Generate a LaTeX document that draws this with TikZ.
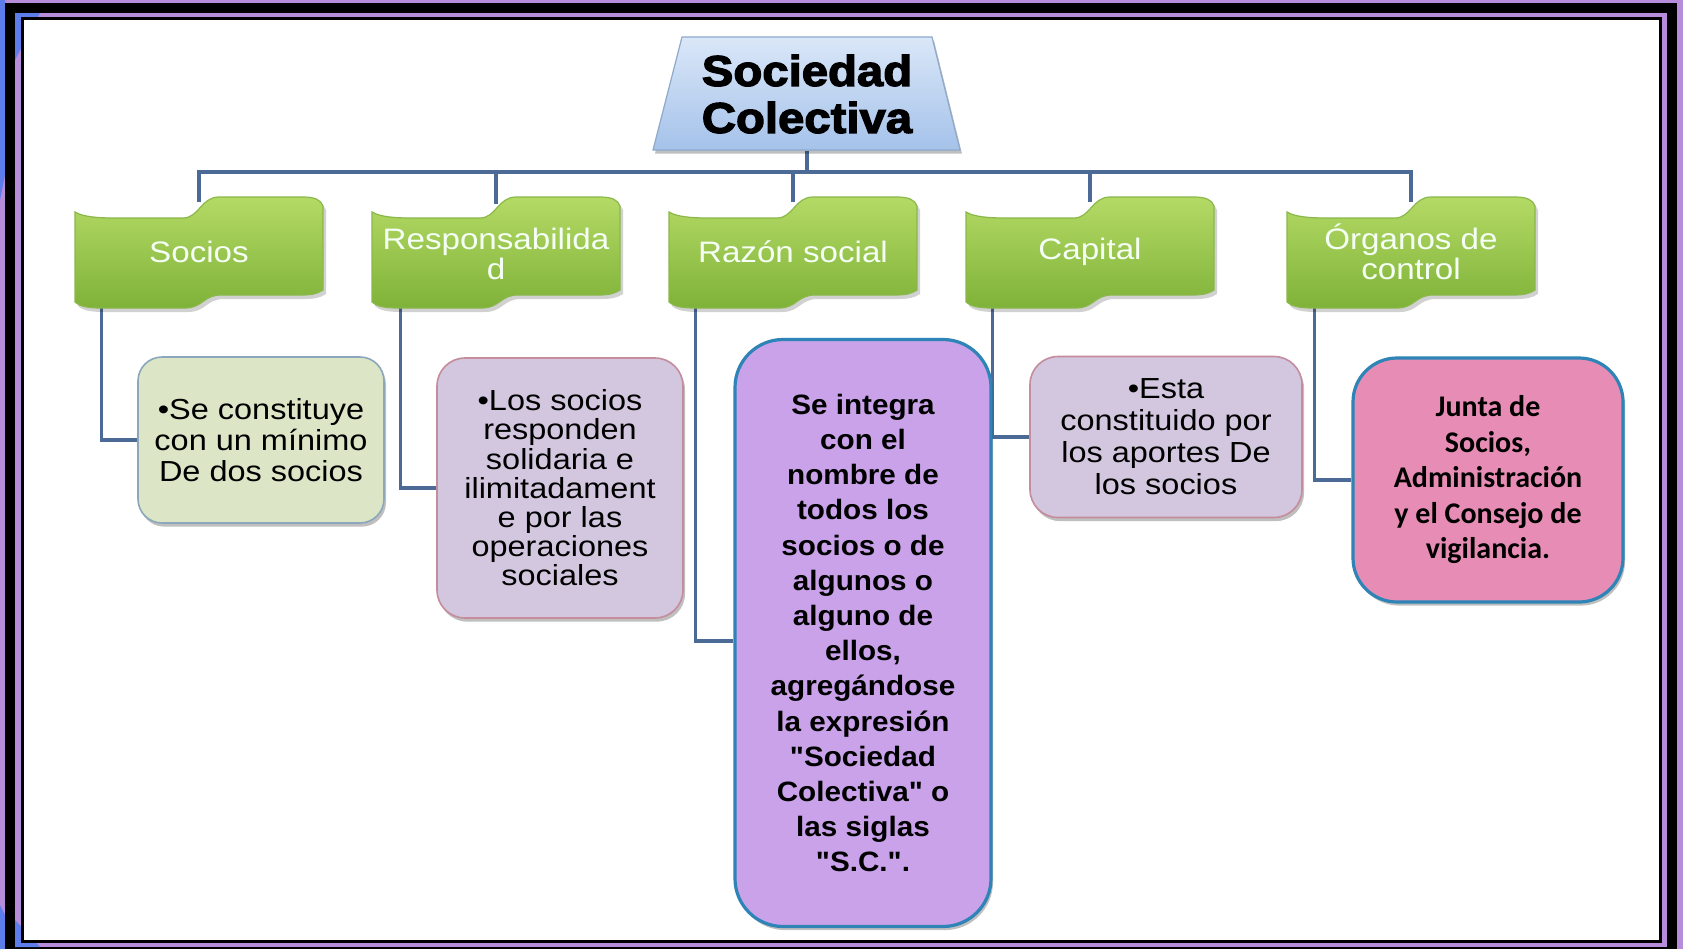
\documentclass[tikz,border=0pt]{standalone}
\usepackage{fontspec}
\setmainfont{Liberation Sans}
\newfontfamily\titlefont[FakeStretch=1.1,BoldFeatures={FakeBold=3}]{Liberation Sans}
\newfontfamily\bannerfont[FakeStretch=1.12]{Liberation Sans}
\newfontfamily\boxfont[FakeStretch=1.12]{Liberation Sans}
\newfontfamily\purplefont[FakeStretch=1.06]{Liberation Sans}
\newfontfamily\pinkfont{Carlito}
\usetikzlibrary{shadows,calc}
\pgfdeclarelayer{bg}
\pgfsetlayers{bg,main}
\definecolor{framelilac}{HTML}{B68CDB}
\definecolor{frameblue}{HTML}{5D7DEB}
\definecolor{conncol}{HTML}{4B6B96}
\definecolor{titletop}{HTML}{DAE7F8}
\definecolor{titlebot}{HTML}{A5C2EA}
\definecolor{titleedge}{HTML}{8EA9CC}
\definecolor{bantop}{HTML}{B4DA66}
\definecolor{banbot}{HTML}{7FB238}
\definecolor{banedge}{HTML}{8AB84A}
\definecolor{socfill}{HTML}{DCE6C6}
\definecolor{socedge}{HTML}{8CA6BC}
\definecolor{lilfill}{HTML}{D3C7DF}
\definecolor{liledge}{HTML}{C48C9C}
\definecolor{purfill}{HTML}{C9A2E9}
\definecolor{bluedge}{HTML}{2E84B6}
\definecolor{pinkfill}{HTML}{E78DB5}
\tikzset{
  conn/.style={draw=conncol, line width=1.6pt},
  softshadow/.style={drop shadow={shadow xshift=1pt, shadow yshift=-1.8pt, opacity=0.25, fill=black}},
  wave/.pic={
    \fill[black, opacity=0.18, xshift=1.5pt, yshift=-2pt]
      (-124,-40) .. controls (-116,-35) and (-100,-34) .. (-85,-34)
      -- (-16,-34) .. controls (0,-34) and (2,-55) .. (20,-55)
      -- (104,-55) .. controls (116,-55) and (122,-52) .. (124,-46)
      -- (124,38) .. controls (118,42) and (112,43) .. (102,43)
      -- (22,43) .. controls (4,43) and (4,56) .. (-14,56)
      -- (-98,56) .. controls (-112,56) and (-120,54) .. (-124,50) -- cycle;
    \shade[top color=bantop, bottom color=banbot, draw=banedge, line width=0.6pt]
      (-124,-40) .. controls (-116,-35) and (-100,-34) .. (-85,-34)
      -- (-16,-34) .. controls (0,-34) and (2,-55) .. (20,-55)
      -- (104,-55) .. controls (116,-55) and (122,-52) .. (124,-46)
      -- (124,38) .. controls (118,42) and (112,43) .. (102,43)
      -- (22,43) .. controls (4,43) and (4,56) .. (-14,56)
      -- (-98,56) .. controls (-112,56) and (-120,54) .. (-124,50) -- cycle;
  },
  titletext/.style={minimum height=56.5pt, minimum width=120pt, inner sep=0pt, align=center,
    font=\titlefont\bfseries\fontsize{21.5}{23.5}\selectfont},
  bannertext/.style={minimum width=123pt, minimum height=50pt, inner sep=0pt, align=center,
    text=white!96!green, font=\bannerfont\fontsize{14.8}{14.8}\selectfont},
  boxbase/.style={align=center, inner sep=0pt, softshadow},
  sociobox/.style={boxbase, fill=socfill, draw=socedge, line width=0.8pt, rounded corners=12pt,
    minimum width=123pt, minimum height=83pt, font=\boxfont\fontsize{14.5}{15.5}\selectfont},
  lilacbox/.style={boxbase, fill=lilfill, draw=liledge, line width=0.8pt, rounded corners=14pt,
    minimum width=123pt},
  purplebox/.style={boxbase, fill=purfill, draw=bluedge, line width=1.6pt, rounded corners=24pt,
    minimum width=128pt, minimum height=293.5pt, font=\purplefont\bfseries\fontsize{14}{17.6}\selectfont},
  pinkbox/.style={boxbase, fill=pinkfill, draw=bluedge, line width=1.6pt, rounded corners=22pt,
    minimum width=135pt, minimum height=122pt, font=\pinkfont\bfseries\fontsize{15}{17.75}\selectfont},
}
\begin{document}
\begin{tikzpicture}[x=0.5pt,y=-0.5pt]
\useasboundingbox (0,0) rectangle (1683,949);
\begin{pgfonlayer}{bg}
\fill[framelilac] (0,0) rectangle (1683,949);
\fill[frameblue] (0,0) -- (5,0) -- (5,175) -- (0,200) -- cycle;
\fill[frameblue] (0,905) -- (5,915) -- (5,949) -- (0,949) -- cycle;
\fill[black] (5,3) rectangle (1677,949);
\fill[framelilac] (15,13) rectangle (1667,947);
\fill[frameblue] (15,13) -- (40,13) -- (15,60) -- cycle;
\fill[frameblue] (15,920) -- (40,947) -- (15,947) -- cycle;
\fill[black] (21,17) rectangle (1662,943);
\fill[white] (24,20) rectangle (1659,940);
\end{pgfonlayer}

% title
\shade[draw=titleedge, line width=0.6pt, top color=titletop, bottom color=titlebot, softshadow]
  (682,37) -- (932,37) -- (960,150) -- (653,150) -- cycle;
\node[titletext] (title) at (807,94) {Sociedad\\Colectiva};

% banners
\pic at (199,252) {wave};
\node[bannertext] (b1) at (199,252) {Socios};
\pic at (496,252) {wave};
\node[bannertext] (b2) at (496,254) {Responsabilida\\d};
\pic at (793,252) {wave};
\node[bannertext] (b3) at (793,252) {Razón social};
\pic at (1090,252) {wave};
\node[bannertext] (b4) at (1090,252) {Capital};
\pic at (1411,252) {wave};
\node[bannertext] (b5) at (1411,252) {Órganos de\\control};

% boxes
\node[sociobox] (s1) at (261,440) {•Se constituye\\con un mínimo\\De dos socios};
\node[lilacbox, minimum height=130pt, font=\boxfont\fontsize{14.5}{14.6}\selectfont] (s2) at (560,488)
  {•Los socios\\responden\\solidaria e\\ilimitadament\\e por las\\operaciones\\sociales};
\node[purplebox] (s3) at (863,633)
  {Se integra\\con el\\nombre de\\todos los\\socios o de\\algunos o\\alguno de\\ellos,\\agregándose\\la expresión\\"Sociedad\\Colectiva" o\\las siglas\\"S.C.".};
\node[lilacbox, minimum width=136pt, minimum height=80.5pt, font=\boxfont\fontsize{14.5}{16}\selectfont] (s4) at (1166,437)
  {•Esta\\constituido por\\los aportes De\\los socios};
\node[pinkbox] (s5) at (1488,480)
  {Junta de\\Socios,\\Administración\\y el Consejo de\\vigilancia.};

% connectors
\begin{pgfonlayer}{bg}
\coordinate (bus) at (807,172);
\draw[conn] (title.south) -- (bus);
\draw[conn] (bus) -| (b1.north);
\draw[conn] (bus) -| (b2.north);
\draw[conn] (bus) -| (b3.north);
\draw[conn] (bus) -| (b4.north);
\draw[conn] (bus) -| (b5.north);
\draw[conn] ($(b1.south west)+(26,0)$) |- (s1.west);
\draw[conn] ($(b2.south west)+(28,0)$) |- (s2.west);
\draw[conn] ($(b3.south west)+(26,0)$) |- ($(s3.west)+(0,8)$);
\draw[conn] ($(b4.south west)+(26,0)$) |- (s4.west);
\draw[conn] ($(b5.south west)+(27,0)$) |- (s5.west);
\end{pgfonlayer}
\end{tikzpicture}
\end{document}
